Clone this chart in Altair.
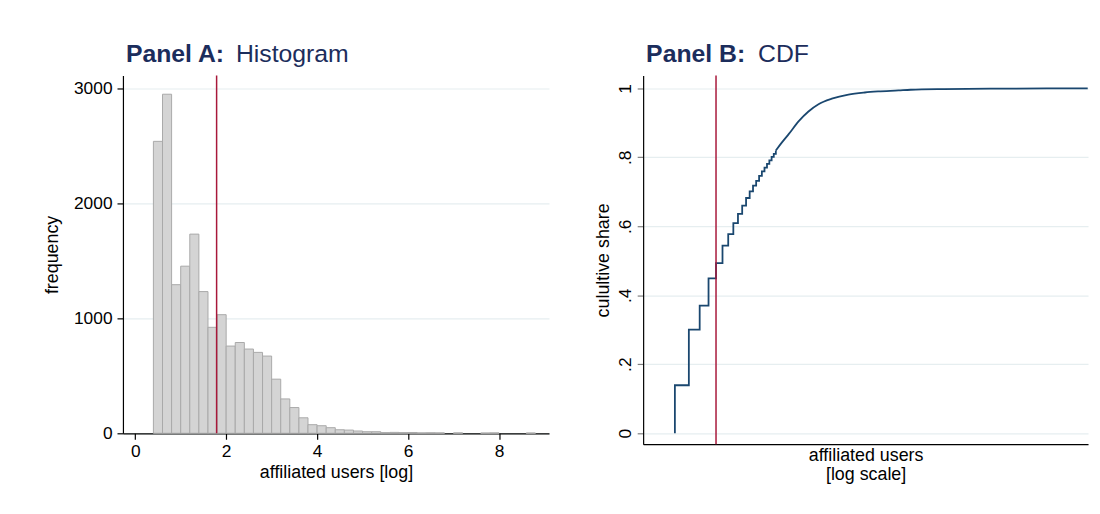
import altair as alt
import pandas as pd

# ---------------- data ----------------
# Panel A: histogram of log(affiliated users), bins of width 0.2
bin_start = [0.4, 0.6, 0.8, 1.0, 1.2, 1.4, 1.6, 1.8, 2.0, 2.2, 2.4, 2.6, 2.8,
             3.0, 3.2, 3.4, 3.6, 3.8, 4.0, 4.2, 4.4, 4.6, 4.8, 5.0, 5.2, 5.4,
             5.6, 5.8, 6.0, 6.2, 6.4, 6.6, 7.0, 7.6, 7.8, 8.6]
bin_count = [2540, 2950, 1293, 1454, 1733, 1233, 922, 1032, 759, 790, 733, 704, 672,
             471, 299, 224, 135, 75, 66, 49, 31, 28, 20, 14, 14, 6,
             8, 6, 7, 4, 5, 4, 4, 3, 4, 3]
bin_width = 0.2
median_log = 1.79

# Panel B: empirical CDF of affiliated users (log scale)
step_users = [3, 3, 4, 5, 6, 7, 8, 9, 10, 11, 12, 13, 14, 15, 16, 17, 18, 19,
              20, 21, 22, 23, 24]
step_share = [0.0, 0.139, 0.300, 0.370, 0.449, 0.493, 0.544, 0.577, 0.609, 0.636,
              0.660, 0.682, 0.701, 0.718, 0.732, 0.746, 0.759, 0.770, 0.781,
              0.791, 0.801, 0.810, 0.820]
smooth_users = [24, 27, 31.4, 38.5, 47, 57.8, 76, 107, 150, 197, 300, 386, 770,
                2000, 14800]
smooth_share = [0.820, 0.842, 0.868, 0.905, 0.933, 0.954, 0.970, 0.982, 0.988,
                0.991, 0.994, 0.996, 0.998, 0.999, 1.0]
median_users = 7

# ---------------- styling ----------------
NAVY_T = "#1c2d5c"
NAVY = "#1a476f"
RED = "#a8183a"
GRID = "#e6eef0"
FONT = "Liberation Sans"

hist_df = pd.DataFrame({"start": bin_start, "count": bin_count})
hist_df["end"] = hist_df["start"] + bin_width

step_df = pd.DataFrame({"users": step_users, "share": step_share,
                        "idx": list(range(len(step_users)))})
smooth_df = pd.DataFrame({"users": smooth_users, "share": smooth_share})


def bold_title(text):
    return alt.TitleParams(
        text=text, anchor="start", frame="group",
        font=FONT, fontSize=25, fontWeight="bold", color=NAVY_T,
        offset=8, dx=3,
    )


def plain_title(text, dx):
    # second half of the panel heading, placed on the same line
    return alt.TitleParams(
        text=text, anchor="start", frame="group",
        font=FONT, fontSize=25, fontWeight="normal", color=NAVY_T,
        offset=-25, dx=dx,
    )


# ---------------- Panel A ----------------
xA = alt.X("start:Q",
           scale=alt.Scale(domain=[-0.27, 9.1], nice=False, zero=False, padding=0),
           axis=alt.Axis(values=[0, 2, 4, 6, 8], title="affiliated users [log]",
                         grid=False, tickSize=6, labelPadding=3, titlePadding=4))
yA = alt.Y("count:Q",
           scale=alt.Scale(domain=[0, 3112], nice=False, padding=0),
           axis=alt.Axis(values=[0, 1000, 2000, 3000], title="frequency",
                         format="d",
                         grid=True, gridColor=GRID, gridWidth=1.2,
                         tickSize=6, labelPadding=5, titlePadding=12))

bars = alt.Chart(hist_df).mark_bar(
    fill="#d4d4d4", stroke="#a9a9a9", strokeWidth=1, orient="vertical"
).encode(x=xA, x2="end:Q", y=yA, y2=alt.datum(0))

ruleA = alt.Chart(pd.DataFrame({"start": [median_log]})).mark_rule(
    color=RED, strokeWidth=1.5
).encode(x=xA)

panelA = alt.layer(bars, ruleA).properties(
    width=430, height=361, title=bold_title("Panel A:"))

# ---------------- Panel B ----------------
xB = alt.X("users:Q",
           scale=alt.Scale(type="log", domain=[1.56, 14900], nice=False),
           axis=alt.Axis(title=["affiliated users", "[log scale]"], labels=False,
                         ticks=False, grid=False, titlePadding=2))
yB = alt.Y("share:Q",
           scale=alt.Scale(domain=[-0.032, 1.037], nice=False, zero=False),
           axis=alt.Axis(values=[0, 0.2, 0.4, 0.6, 0.8, 1], title="culultive share",
                         labelExpr="replace(format(datum.value, '.1~f'), '0.', '.')",
                         labelAngle=270, labelAlign="center", labelBaseline="bottom",
                         grid=True, gridColor=GRID, gridWidth=1.2,
                         tickSize=6, tickColor="#7f7f7f", labelPadding=3,
                         titlePadding=4))

step = alt.Chart(step_df).mark_line(
    interpolate="step-after", color=NAVY, strokeWidth=1.8
).encode(x=xB, y=yB, order="idx:Q")

smooth = alt.Chart(smooth_df).mark_line(
    interpolate="monotone", color=NAVY, strokeWidth=1.8
).encode(x=xB, y=yB)

ruleB = alt.Chart(pd.DataFrame({"users": [median_users]})).mark_rule(
    color=RED, strokeWidth=1.5
).encode(x=xB)

panelB = alt.layer(step, smooth, ruleB).properties(
    width=449, height=372, title=bold_title("Panel B:"))

wrapA = alt.hconcat(panelA, title=plain_title("Histogram", 114))
wrapB = alt.hconcat(panelB, title=plain_title("CDF", 116))

chart = alt.hconcat(wrapA, wrapB, spacing=46).properties(
    padding={"left": 36, "top": 32, "right": 0, "bottom": 5}
).configure_view(stroke=None).configure_axis(
    labelFont=FONT, labelFontSize=17.5, labelColor="black",
    titleFont=FONT, titleFontSize=18, titleFontWeight="normal", titleColor="black",
    domainColor="black", domainWidth=1.2, tickColor="black", tickWidth=1.2,
    labelFlush=False,
)

chart.save("out.html", embed_options={"renderer": "svg", "actions": False})
